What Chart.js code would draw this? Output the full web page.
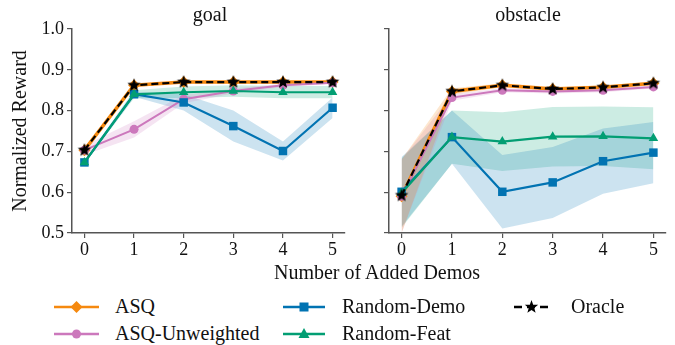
<!DOCTYPE html>
<html>
<head>
<meta charset="utf-8">
<script src="https://cdn.jsdelivr.net/npm/chart.js@4.4.1/dist/chart.umd.min.js"></script>
<style>
  body { margin: 0; background: #fff; font-family: "Liberation Serif", "DejaVu Serif", serif; color: #111; }
  #wrap { position: relative; width: 675px; height: 345px; overflow: hidden; }
  canvas { position: absolute; top: 0; }
  .txt { position: absolute; font-size: 20px; white-space: nowrap; line-height: 1; }
  .leg { position: absolute; height: 20px; }
  .leg svg { position: absolute; left: 0; top: 0; }
  .leg span { position: absolute; top: -1px; font-size: 20px; white-space: nowrap; line-height: 1; }
</style>
</head>
<body>
<div id="wrap">
  <canvas id="goal" width="352" height="262" style="left:0"></canvas>
  <canvas id="obstacle" width="325" height="262" style="left:350px"></canvas>
  <div class="txt" style="left:210px;top:4px;transform:translateX(-50%)">goal</div>
  <div class="txt" style="left:528px;top:4px;transform:translateX(-50%)">obstacle</div>
  <div class="txt" style="left:377px;top:262px;transform:translateX(-50%)">Number of Added Demos</div>
  <div id="legend"></div>
</div>
<script>
// x values (number of added demos)
const demos = [0, 1, 2, 3, 4, 5];

// goal panel
const asqGoal = [0.703, 0.862, 0.870, 0.870, 0.870, 0.870];
const asqGoalErr = [0.006, 0.004, 0.003, 0.003, 0.003, 0.003];
const unwGoal = [0.703, 0.754, 0.828, 0.848, 0.862, 0.868];
const unwGoalErr = [0.012, 0.020, 0.010, 0.006, 0.004, 0.003];
const demoGoal = [0.673, 0.840, 0.820, 0.762, 0.701, 0.807];
const demoGoalErr = [0.004, 0.006, 0.020, 0.038, 0.023, 0.025];
const featGoal = [0.673, 0.840, 0.845, 0.848, 0.845, 0.845];
const featGoalErr = [0.004, 0.010, 0.014, 0.014, 0.015, 0.015];
const oracleGoal = [0.703, 0.862, 0.870, 0.870, 0.870, 0.870];

// obstacle panel
const asqObs = [0.590, 0.847, 0.862, 0.853, 0.857, 0.867];
const asqObsErr = [0.090, 0.008, 0.005, 0.005, 0.005, 0.004];
const unwObs = [0.590, 0.832, 0.850, 0.847, 0.850, 0.858];
const unwObsErr = [0.090, 0.008, 0.005, 0.005, 0.005, 0.004];
const demoObs = [0.601, 0.735, 0.601, 0.624, 0.676, 0.697];
const demoObsErr = [0.085, 0.065, 0.090, 0.087, 0.080, 0.075];
const featObs = [0.598, 0.735, 0.724, 0.736, 0.737, 0.732];
const featObsErr = [0.085, 0.065, 0.072, 0.073, 0.073, 0.076];
const oracleObs = [0.592, 0.847, 0.862, 0.853, 0.857, 0.867];

const yTicks = [0.5, 0.6, 0.7, 0.8, 0.9, 1.0];

const ORANGE = "#f5890f", PINK = "#cc78bc", BLUE = "#0173b2", GREEN = "#029e73";
const SERIF = "'Liberation Serif', 'DejaVu Serif', serif";
Chart.defaults.font.family = SERIF;

// filled five point star for the oracle markers
function starImage(r, color) {
  const c = document.createElement("canvas");
  c.width = c.height = r * 2 + 2;
  const g = c.getContext("2d");
  g.fillStyle = color;
  g.beginPath();
  for (let i = 0; i < 10; i++) {
    const rad = i % 2 === 0 ? r : r * 0.42;
    const a = -Math.PI / 2 + i * Math.PI / 5;
    g.lineTo(r + 1 + rad * Math.cos(a), r + 1 + rad * Math.sin(a));
  }
  g.closePath();
  g.fill();
  return c;
}
const star = starImage(7, "#000");

function pts(ys) { return demos.map((x, i) => ({ x: x, y: ys[i] })); }
function alpha(hex, a) {
  const n = parseInt(hex.slice(1), 16);
  return `rgba(${n >> 16},${(n >> 8) & 255},${n & 255},${a})`;
}

function band(mean, err, color) {
  return [
    { data: pts(mean.map((v, i) => v - err[i])), borderWidth: 0, pointRadius: 0, fill: false, order: 10 },
    { data: pts(mean.map((v, i) => v + err[i])), borderWidth: 0, pointRadius: 0, fill: "-1",
      backgroundColor: alpha(color, 0.2), order: 10 }
  ];
}

function line(mean, color, style, radius, width, order, extra) {
  return Object.assign({
    data: pts(mean), borderColor: color, backgroundColor: color, borderWidth: width,
    pointStyle: style, pointRadius: radius, pointBorderWidth: 0, pointBackgroundColor: color,
    fill: false, tension: 0, order: order
  }, extra || {});
}

function makeChart(id, s, showY, leftW, padRight) {
  const datasets = [].concat(
    band(s.asq, s.asqErr, ORANGE),
    band(s.unw, s.unwErr, PINK),
    band(s.demo, s.demoErr, BLUE),
    band(s.feat, s.featErr, GREEN),
    [
      line(s.asq, ORANGE, "rectRot", 6, 3.5, 5),
      line(s.unw, PINK, "circle", 4.5, 2, 4),
      line(s.demo, BLUE, "rect", 6, 2.2, 3),
      line(s.feat, GREEN, "triangle", 5.5, 2.2, 2),
      line(s.oracle, "#000", star, 7, 2.2, 1, { borderDash: [7, 4] })
    ]
  );
  return new Chart(document.getElementById(id), {
    type: "line",
    data: { datasets: datasets },
    options: {
      responsive: false,
      animation: false,
      layout: { padding: { top: 29, right: padRight, left: 0, bottom: 0 } },
      plugins: { legend: { display: false }, tooltip: { enabled: false }, title: { display: false } },
      scales: {
        x: {
          type: "linear", min: -0.25, max: 5.25,
          afterBuildTicks: sc => { sc.ticks = demos.map(v => ({ value: v })); },
          afterFit: sc => { sc.height = 29; },
          grid: { drawOnChartArea: false, tickLength: 5, color: "#555", lineWidth: 1.2 },
          border: { color: "#555", width: 1.5 },
          ticks: { color: "#111", font: { family: SERIF, size: 18 }, padding: 1, maxRotation: 0 }
        },
        y: {
          min: 0.5, max: 1.0,
          afterBuildTicks: sc => { sc.ticks = yTicks.map(v => ({ value: v })); },
          afterFit: sc => { sc.width = leftW; },
          grid: { drawOnChartArea: false, tickLength: 5, color: "#555", lineWidth: 1.2 },
          border: { color: "#555", width: 1.5 },
          ticks: {
            color: "#111", font: { family: SERIF, size: 18 }, padding: 3,
            callback: v => showY ? v.toFixed(1) : ""
          },
          title: {
            display: showY, text: "Normalized Reward", color: "#111",
            font: { family: SERIF, size: 20 }, padding: { top: 9, bottom: 0 }
          }
        }
      }
    }
  });
}

makeChart("goal", {
  asq: asqGoal, asqErr: asqGoalErr, unw: unwGoal, unwErr: unwGoalErr,
  demo: demoGoal, demoErr: demoGoalErr, feat: featGoal, featErr: featGoalErr, oracle: oracleGoal
}, true, 72, 4);

makeChart("obstacle", {
  asq: asqObs, asqErr: asqObsErr, unw: unwObs, unwErr: unwObsErr,
  demo: demoObs, demoErr: demoObsErr, feat: featObs, featErr: featObsErr, oracle: oracleObs
}, false, 39, 9);

// legend, laid out in three columns like the figure
const legendItems = [
  { label: "ASQ", color: ORANGE, shape: "diamond", x: 54, y: 297, w: 45, tx: 61 },
  { label: "ASQ-Unweighted", color: PINK, shape: "circle", x: 54, y: 324, w: 45, tx: 61 },
  { label: "Random-Demo", color: BLUE, shape: "square", x: 283, y: 297, w: 42, tx: 59 },
  { label: "Random-Feat", color: GREEN, shape: "triangle", x: 283, y: 324, w: 42, tx: 59 },
  { label: "Oracle", color: "#000", shape: "star", x: 513, y: 297, w: 37, tx: 58, dash: true }
];
const legend = document.getElementById("legend");
legendItems.forEach(it => {
  const cx = it.w / 2, cy = 10;
  let mark = "";
  if (it.shape === "diamond") mark = `<polygon points="${cx},${cy - 6} ${cx + 6},${cy} ${cx},${cy + 6} ${cx - 6},${cy}" fill="${it.color}"/>`;
  if (it.shape === "circle") mark = `<circle cx="${cx}" cy="${cy}" r="4.5" fill="${it.color}"/>`;
  if (it.shape === "square") mark = `<rect x="${cx - 4.5}" y="${cy - 4.5}" width="9" height="9" fill="${it.color}"/>`;
  if (it.shape === "triangle") mark = `<polygon points="${cx},${cy - 6} ${cx + 5.5},${cy + 4} ${cx - 5.5},${cy + 4}" fill="${it.color}"/>`;
  if (it.shape === "star") {
    const p = [];
    for (let i = 0; i < 10; i++) {
      const rad = i % 2 === 0 ? 7 : 2.9, a = -Math.PI / 2 + i * Math.PI / 5;
      p.push((cx + rad * Math.cos(a)).toFixed(2) + "," + (cy + rad * Math.sin(a)).toFixed(2));
    }
    mark = `<polygon points="${p.join(" ")}" fill="#000"/>`;
  }
  const dash = it.dash ? 'stroke-dasharray="8 5" stroke-dashoffset="-1"' : "";
  const el = document.createElement("div");
  el.className = "leg";
  el.style.left = it.x + "px";
  el.style.top = it.y + "px";
  el.innerHTML = `<svg width="${it.w}" height="20"><line x1="0" y1="${cy}" x2="${it.w}" y2="${cy}" stroke="${it.color}" stroke-width="2.5" ${dash}/>${mark}</svg><span style="left:${it.tx}px">${it.label}</span>`;
  legend.appendChild(el);
});
</script>
</body>
</html>
